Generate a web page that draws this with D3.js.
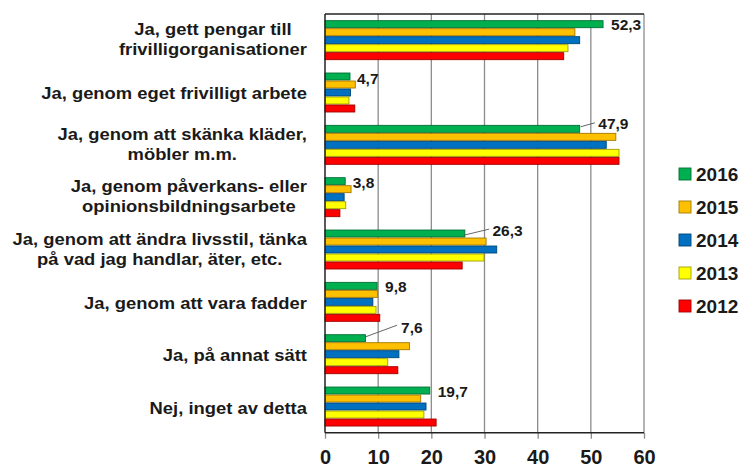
<!DOCTYPE html>
<html>
<head>
<meta charset="utf-8">
<script src="https://cdn.jsdelivr.net/npm/d3@7"></script>
<style>
  body { margin: 0; background: #fff; }
  text { font-family: "Liberation Sans", Arial, sans-serif; font-weight: bold; fill: #1a1a1a; }
</style>
</head>
<body>
<div id="chart"></div>
<script>
// categories (each one split into its display lines)
const categories = [
    ['Ja, gett pengar till', 'frivilligorganisationer'],
    ['Ja, genom eget frivilligt arbete'],
    ['Ja, genom att skänka kläder,', 'möbler m.m.'],
    ['Ja, genom påverkans- eller', 'opinionsbildningsarbete'],
    ['Ja, genom att ändra livsstil, tänka', 'på vad jag handlar, äter, etc.'],
    ['Ja, genom att vara fadder'],
    ['Ja, på annat sätt'],
    ['Nej, inget av detta']
];
const years = ['2016', '2015', '2014', '2013', '2012'];
const v2016 = [52.3, 4.7, 47.9, 3.8, 26.3, 9.8, 7.6, 19.7];
const v2015 = [47.0, 5.7, 54.7, 4.9, 30.3, 9.9, 15.9, 18.0];
const v2014 = [47.9, 4.8, 52.9, 3.6, 32.3, 9.0, 13.9, 19.0];
const v2013 = [45.7, 4.5, 55.3, 3.9, 29.9, 9.6, 11.8, 18.6];
const v2012 = [44.9, 5.6, 55.3, 2.8, 25.8, 10.3, 13.7, 20.9];
const tickValues = [0, 10, 20, 30, 40, 50, 60];

const seriesValues = [v2016, v2015, v2014, v2013, v2012];
const colors = ['#00b050', '#ffc000', '#0070c0', '#ffff00', '#ff0000'];

const width = 749, height = 467;
const plot = { left: 325, right: 644, top: 14, bottom: 432.7 };

const svg = d3.select('#chart').append('svg')
    .attr('width', width)
    .attr('height', height);

const x = d3.scaleLinear().domain([0, 60]).range([plot.left, plot.right]);
const y = d3.scaleBand().domain(d3.range(categories.length))
    .range([plot.top, plot.bottom])
    .paddingInner(0.236)
    .paddingOuter(0.118);
const yInner = d3.scaleBand().domain(years).range([0, y.bandwidth()]);

// gridlines (gray)
svg.append('g').selectAll('line')
    .data(tickValues.filter(d => d > 0))
    .join('line')
    .attr('x1', d => x(d)).attr('x2', d => x(d))
    .attr('y1', plot.top).attr('y2', plot.bottom)
    .attr('stroke', '#8c8c8c')
    .attr('stroke-width', 1.3);

// bottom axis
const xAxis = d3.axisBottom(x).tickValues(tickValues).tickSize(6).tickPadding(11);
const gx = svg.append('g').attr('transform', `translate(0,${plot.bottom})`).call(xAxis);
gx.select('.domain').remove();
gx.selectAll('.tick line').attr('stroke', '#8c8c8c').attr('stroke-width', 1.3);
gx.selectAll('.tick text').style('font-size', '20px').attr('fill', '#1a1a1a');

// bars
const groups = svg.append('g').selectAll('g.cat')
    .data(categories.map((c, i) => i))
    .join('g')
    .attr('class', 'cat')
    .attr('transform', i => `translate(0,${y(i)})`);

groups.selectAll('rect')
    .data(i => years.map((yr, j) => ({ year: yr, j: j, value: seriesValues[j][i] })))
    .join('rect')
    .attr('x', x(0))
    .attr('y', d => yInner(d.year) + 0.5)
    .attr('width', d => x(d.value) - x(0))
    .attr('height', yInner.bandwidth() - 1)
    .attr('fill', d => colors[d.j])
    .attr('stroke', d => d3.color(colors[d.j]).darker(1.3))
    .attr('stroke-width', 0.9);

// frame: left, top, bottom axis lines
svg.append('line').attr('x1', plot.left).attr('x2', plot.right).attr('y1', plot.top).attr('y2', plot.top)
    .attr('stroke', '#222').attr('stroke-width', 1.5);
svg.append('line').attr('x1', plot.left).attr('x2', plot.right).attr('y1', plot.bottom).attr('y2', plot.bottom)
    .attr('stroke', '#222').attr('stroke-width', 1.5);
svg.append('line').attr('x1', plot.left).attr('x2', plot.left).attr('y1', plot.top).attr('y2', plot.bottom)
    .attr('stroke', '#222').attr('stroke-width', 1.5);

// value labels for 2016 (some with leader lines)
const labelLayout = [
    { dx: 8, dy: 10 },
    { dx: 7, dy: 11 },
    { dx: 18.6, dy: 4, leader: [1, 1.9, 15.3, -2.1] },
    { dx: 7.5, dy: 11 },
    { dx: 27.6, dy: 6.6, leader: [-0.7, 5.6, 24.3, -0.4] },
    { dx: 8, dy: 10 },
    { dx: 35.7, dy: -1.3, leader: [0, 2.7, 31.7, -9] },
    { dx: 8, dy: 10 }
];
const fmt = d => d3.format('.1f')(d).replace('.', ',');

v2016.forEach((v, i) => {
    const top = y(i) + yInner(years[0]);
    const end = x(v);
    const lay = labelLayout[i];
    if (lay.leader) {
        svg.append('line')
            .attr('x1', end + lay.leader[0]).attr('y1', top + lay.leader[1])
            .attr('x2', end + lay.leader[2]).attr('y2', top + lay.leader[3])
            .attr('stroke', '#555').attr('stroke-width', 0.9);
    }
    svg.append('text')
        .attr('x', end + lay.dx)
        .attr('y', top + lay.dy)
        .style('font-size', '15.5px')
        .text(fmt(v));
});

// category labels, block right-aligned at x=307, lines centered
const labelRight = 307;
const stretch = 1.15;
categories.forEach((lines, i) => {
    const c = y(i) + y.bandwidth() / 2;
    const base = lines.length === 1 ? c + 7 : c - 5;
    const t = svg.append('text').style('font-size', '16px').attr('text-anchor', 'middle');
    const spans = lines.map((ln, k) => t.append('tspan').attr('x', 0).attr('y', base + k * 20).text(ln));
    const maxW = d3.max(spans, s => s.node().getComputedTextLength()) * stretch;
    const cx = labelRight - maxW / 2;
    t.attr('transform', `translate(${cx},0) scale(${stretch},1)`);
});

// legend
const legend = svg.append('g').selectAll('g')
    .data(years)
    .join('g')
    .attr('transform', (d, j) => `translate(679,${174 + j * 33})`);
legend.append('rect')
    .attr('x', 0).attr('y', -6)
    .attr('width', 12).attr('height', 12)
    .attr('fill', (d, j) => colors[j])
    .attr('stroke', (d, j) => d3.color(colors[j]).darker(1.3))
    .attr('stroke-width', 0.9);
legend.append('text')
    .attr('x', 17).attr('y', 7)
    .style('font-size', '19px')
    .text(d => d);
</script>
</body>
</html>
